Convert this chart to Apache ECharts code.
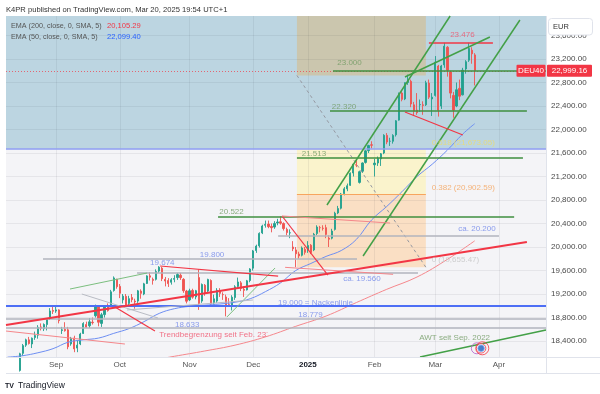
<!DOCTYPE html>
<html><head><meta charset="utf-8">
<script src="https://cdn.jsdelivr.net/npm/echarts@6/dist/echarts.min.js"></script>
<style>html,body{margin:0;padding:0;background:#fff}#c{width:600px;height:394px}</style>
</head><body><div id="c"></div>
<script>
// ---------- DATA ----------
const startDate = '2024-08-09';
const holidays = ['2024-12-24','2024-12-25','2024-12-26','2024-12-31','2025-01-01'];
const barCount = 178;               // trading-day slots incl. future space
const monthNames = ['Jan','Feb','Mar','Apr','May','Jun','Jul','Aug','Sep','Oct','Nov','Dec'];
// daily candles [open, high, low, close], index 0 = 2024-08-09
const ohlc = [
[17680,17760,17650,17722],[17720,17790,17690,17727],[17730,17840,17700,17812],[17830,17920,17780,17885],[17900,18200,17880,18183],
[18190,18350,18150,18322],[18330,18440,18300,18421],[18420,18470,18340,18357],[18350,18460,18280,18448],[18460,18560,18420,18493],
[18500,18670,18440,18633],[18640,18700,18580,18617],[18610,18700,18570,18681],[18680,18790,18580,18782],[18790,18960,18760,18912],
[18920,18990,18860,18906],[18910,18990,18880,18930],[18930,18940,18700,18747],[18580,18640,18520,18591],[18600,18720,18560,18576],
[18590,18640,18260,18301],[18350,18470,18320,18444],[18450,18490,18210,18266],[18280,18400,18210,18330],[18350,18540,18330,18518],
[18530,18720,18520,18699],[18680,18730,18620,18633],[18660,18790,18620,18726],[18720,18800,18680,18711],[18830,19020,18800,19002],
[18990,19000,18650,18720],[18700,18880,18640,18847],[18850,19000,18800,18996],[19000,19040,18900,18918],[19000,19270,18980,19238],
[19260,19500,19240,19474],[19450,19460,19290,19325],[19330,19370,19130,19213],[19100,19200,19040,19164],[19160,19200,18980,19015],
[19040,19170,18990,19121],[19140,19200,19060,19104],[19080,19120,18950,19066],[19080,19270,19050,19254],[19250,19280,19120,19211],
[19200,19390,19180,19373],[19380,19520,19370,19508],[19510,19570,19430,19486],[19450,19480,19360,19432],[19450,19620,19430,19583],
[19590,19674,19560,19657],[19640,19660,19420,19461],[19450,19490,19330,19421],[19430,19470,19320,19377],[19400,19470,19360,19443],
[19450,19520,19400,19464],[19480,19560,19440,19531],[19520,19560,19440,19479],[19450,19470,19220,19257],[19250,19270,19040,19078],
[19100,19290,19080,19255],[19260,19290,19120,19147],[19150,19270,19110,19256],[19480,19620,18930,19039],[19080,19380,19050,19362],
[19350,19370,19170,19215],[19250,19460,19230,19448],[19430,19450,19000,19033],[19050,19190,19000,19118],[19080,19300,19050,19263],
[19260,19300,19150,19211],[19190,19230,19100,19189],[19150,19190,18820,18987],[19020,19130,18990,19004],[19000,19180,18920,19146],
[19140,19350,19100,19323],[19330,19480,19300,19405],[19390,19420,19250,19295],[19280,19330,19150,19262],[19270,19440,19260,19425],
[19430,19640,19400,19626],[19640,19950,19600,19934],[19940,20040,19900,20016],[20020,20250,19990,20232],[20240,20380,20220,20358],
[20370,20450,20330,20385],[20390,20450,20320,20346],[20350,20400,20250,20329],[20340,20440,20310,20399],[20410,20480,20370,20426],
[20430,20522,20380,20406],[20400,20420,20280,20314],[20300,20330,20200,20246],[20240,20300,20150,20242],[20000,20100,19930,19970],
[19950,20000,19656,19885],[19880,19920,19800,19849],[19860,20010,19840,19984],[19960,20000,19870,19909],[19950,20100,19900,20025],
[20030,20050,19880,19906],[19950,20240,19930,20216],[20230,20370,20200,20340],[20330,20360,20250,20330],[20320,20370,20280,20317],
[20330,20380,20150,20215],[20150,20200,20000,20133],[20150,20310,20130,20271],[20300,20600,20280,20575],[20580,20700,20560,20655],
[20660,20920,20640,20903],[20910,21020,20880,20990],[20990,21080,20950,21042],[21050,21270,21040,21254],[21260,21420,21200,21411],
[21400,21480,21360,21394],[21100,21300,21080,21282],[21290,21440,21260,21430],[21440,21650,21420,21637],[21640,21740,21600,21727],
[21740,21800,21680,21732],[21400,21500,21200,21428],[21430,21540,21380,21505],[21500,21600,21380,21586],[21600,21920,21580,21902],
[21900,21940,21750,21787],[21800,21860,21720,21800],[21800,21920,21760,21900],[21910,22160,21880,22148],[22160,22630,22150,22612],
[22620,22650,22480,22513],[22520,22800,22500,22798],[22800,22935,22760,22844],[22820,22850,22380,22434],[22420,22470,22230,22314],
[22330,22620,22250,22287],[22420,22510,22300,22425],[22420,22480,22250,22410],[22420,22830,22400,22794],[22790,22850,22520,22551],
[22520,22620,22230,22551],[22580,23250,22560,23147],[23080,23100,22220,22327],[22400,23100,22350,23081],[23100,23476,23050,23419],
[23400,23420,22900,23009],[22980,23000,22530,22620],[22580,22640,22200,22329],[22400,22800,22380,22676],[22700,22850,22500,22567],
[22590,23050,22580,23009],[23030,23180,22950,23154],[23180,23476,23150,23380],[23350,23400,23120,23288],[23270,23300,22750,22999.16]
];
// moving averages: [bar index, value]
const ema50 = [[0,18125],[5,18150],[10,18200],[15,18270],[20,18380],[25,18420],[30,18450],[35,18530],[40,18610],[45,18730],
[50,18870],[55,18950],[60,18990],[65,19010],[70,19030],[75,19060],[80,19120],[85,19240],[90,19390],[95,19600],[100,19720],
[105,19840],[110,19940],[115,20130],[120,20460],[125,20690],[130,20940],[135,21200],[140,21410],[145,21650],[150,21920],[154,22099.40]];
const ema200 = [[45,18050],[55,18140],[65,18230],[75,18330],[85,18470],[95,18650],[105,18825],[115,19055],[125,19280],
[135,19490],[145,19790],[154,20105.29]];
const priceTicks = [18400,18800,19200,19600,20000,20400,20800,21200,21600,22000,22400,22800,23200,23600];
// Fibonacci retracement levels (0, 0.382, 0.618, 1) and its bar span
const fibLevels = [19655.47, 20902.59, 21673.05, 22920.17];
const fibSpan = [95.4, 137.9];
// horizontal levels: [price, fromBar, toBar]
const greenLevels = [[23000,107.3,177.5],[22320,106.3,171.2],[21513,95.4,169.9],[20522,69.4,167.0]];
const grayLevels = [[18779,-0.5,177.5],[18633,-0.5,177.5],[19800,11.7,115.2],[20200,89.2,162.0],[19560,42.7,135.3]];
const neckLine = [19000,-0.5,177.5];
const highLevel = [23476,138.9,160.0];
// diagonal trend lines: [[bar, price],[bar, price]]
const greenTrends = [[[105.3,20715],[145.9,23932]],[[117.2,19847],[168.9,23864]],[[131.0,22894],[159.0,23574]],[[135.97,18128],[177.5,18587]]];
const thinGreenTrends = [[[20.6,19285],[46.0,19557]],[[72.3,18808],[88.2,19643]]];
const grayTrends = [[[24.5,19200],[49.6,18791]],[[39.4,18928],[80.9,19098]]];
const mainRedTrend = [[-0.5,18672],[171.2,20085]];
const redTrends = [[[35.4,18979],[48.6,18570]],[[50.3,19677],[89.2,19506]],[[90.5,20528],[105.6,19523]],[[131.0,22298],[150.1,21906]]];
const thinRedTrends = [[[-0.5,18570],[38.7,18349]],[[90.5,20528],[126.1,20408]],[[91.5,19654],[127.1,19535]]];
// text notes: [text, bar, price]
const notes = [
 ['23.000',108.7,23137,'g'],['22.320',106.9,22388,'g'],['21.513',96.97,21583,'g'],['20.522',69.8,20601,'g'],
 ['23.476',145.9,23608,'r'],['19.800',63.4,19864,'b'],['19.674',47.0,19723,'b'],['ca. 19.560',110.7,19455,'b'],
 ['ca. 20.200',148.6,20306,'b'],['19.000 = Nackenlinie',89.2,19059,'b'],['18.779',95.85,18843,'b'],['18.633',55.2,18672,'b'],
 ['Trendbegrenzung seit Feb. 23´',50.0,18502,'r'],['AWT seit Sep. 2022',135.7,18463,'g'],
 ['0.618 (21,673.05)',139.8,21775,'y'],['0.382 (20,902.59)',139.8,21016,'o'],['0 (19,655.47)',139.8,19779,'n']
];
const awtIcon = [156.1, 18276];
const symbolName = 'DEU40';

// ---------- BUILD ----------
function tradingDays(start, n) {
  const out = []; const d = new Date(start + 'T12:00:00Z');
  while (out.length < n) {
    const wd = d.getUTCDay(); const iso = d.toISOString().slice(0,10);
    if (wd !== 0 && wd !== 6 && !holidays.includes(iso)) out.push(iso);
    d.setUTCDate(d.getUTCDate() + 1);
  }
  return out;
}
const cats = tradingDays(startDate, barCount);
const monthStart = new Set();
cats.forEach((c,i) => { if (i > 0 && c.slice(5,7) !== cats[i-1].slice(5,7)) monthStart.add(i); });
const FONT = '"Liberation Sans", Arial, sans-serif';
const yMin = 18128, yMax = 23932, xMin = -0.5, xMax = barCount - 0.5;
const UP = '#22a08e', DOWN = '#ef5350';
const fmt = v => v.toLocaleString('en-US', {minimumFractionDigits:2, maximumFractionDigits:2});
const noteColors = {g:'#6f9a62', r:'#f0506a', b:'#6f86ea', y:'#eedc6a', o:'#f5a35a', n:'#c4c4c4'};

const seg = (a, b, style) => [{coord:a, lineStyle:style}, {coord:b}];
const hseg = (l, style) => seg([l[1], l[0]], [l[2], l[0]], style);
const segs = [];
const lastClose = ohlc[ohlc.length-1][3];
segs.push(seg([xMin,lastClose],[xMax,lastClose],{color:'#f23645',width:1,type:[1,2],opacity:0.7}));
segs.push(seg([xMin,fibLevels[2]],[xMax,fibLevels[2]],{color:'#8c9cf2',width:1.5,type:'solid'}));
segs.push(seg([fibSpan[0],fibLevels[1]],[fibSpan[1],fibLevels[1]],{color:'#f7a55e',width:1,type:'solid'}));
segs.push(seg([fibSpan[0],fibLevels[3]],[fibSpan[1],fibLevels[0]],{color:'#9598a1',width:1,type:[3,3]}));
grayLevels.forEach(l => segs.push(hseg(l,{color:'#b2b5be',width:1.5,type:'solid'})));
segs.push(hseg(neckLine,{color:'#4d6ef5',width:2,type:'solid'}));
greenLevels.forEach(l => segs.push(hseg(l,{color:'#3f8f3f',width:1.5,type:'solid'})));
segs.push(hseg(highLevel,{color:'#f23645',width:1.5,type:'solid'}));
greenTrends.forEach(t => segs.push(seg(t[0],t[1],{color:'#43a047',width:1.5,type:'solid'})));
thinGreenTrends.forEach(t => segs.push(seg(t[0],t[1],{color:'#7cbf7f',width:1,type:'solid'})));
grayTrends.forEach(t => segs.push(seg(t[0],t[1],{color:'#b9bcc4',width:1,type:'solid'})));
segs.push(seg(mainRedTrend[0],mainRedTrend[1],{color:'#f23645',width:2,type:'solid'}));
redTrends.forEach(t => segs.push(seg(t[0],t[1],{color:'#f23645',width:1.2,type:'solid'})));
thinRedTrends.forEach(t => segs.push(seg(t[0],t[1],{color:'#f5868a',width:1,type:'solid'})));

const area = (x0,y0,x1,y1,color) => [{coord:[x0,y0], itemStyle:{color}}, {coord:[x1,y1]}];

const chart = echarts.init(document.getElementById('c'), null, {renderer:'canvas', width:600, height:394});
const txt = (x, y, text, fill, size, weight, align) => ({type:'text', x, y, silent:true, z:100,
  style:{text, fill, font:`${weight||'normal'} ${size||8}px ${FONT}`, verticalAlign:'middle', align:align||'left'}});
const graphics = [
  txt(6, 9.5, 'K4PR published on TradingView.com, Mar 20, 2025 19:54 UTC+1', '#333', 7.6),
  txt(11, 25.7, 'EMA (200, close, 0, SMA, 5)', '#555', 7.2),
  txt(107, 25.7, fmt(ema200[ema200.length-1][1]), '#f23645', 7.6),
  txt(11, 36.7, 'EMA (50, close, 0, SMA, 5)', '#555', 7.2),
  txt(107, 36.7, fmt(ema50[ema50.length-1][1]), '#2962ff', 7.6),
  {type:'rect', z:99, silent:true, shape:{x:548.5, y:18.5, width:44, height:16.5, r:3}, style:{fill:'#fff', stroke:'#e0e3eb', lineWidth:1}},
  txt(553, 26.5, 'EUR', '#333', 7.5),
  {type:'line', z:98, silent:true, shape:{x1:6, y1:357.5, x2:600, y2:357.5}, style:{stroke:'#e0e3eb', lineWidth:1}},
  {type:'line', z:98, silent:true, shape:{x1:6, y1:373.5, x2:600, y2:373.5}, style:{stroke:'#e0e3eb', lineWidth:1}},
  {type:'line', z:98, silent:true, shape:{x1:546.5, y1:16, x2:546.5, y2:373.5}, style:{stroke:'#e0e3eb', lineWidth:1}},
  txt(5, 385.6, 'TV', '#131722', 7, 'bold'),
  txt(18, 385.6, 'TradingView', '#131722', 8.5)
];

const option = {
  animation: false,
  grid: {left:6, right:54, top:16, bottom:37, show:true, backgroundColor:'#f4f4f7', borderWidth:0},
  xAxis: [
    {type:'category', data:cats, boundaryGap:true, axisLine:{show:false}, axisTick:{show:false}, splitLine:{show:false},
     axisLabel:{interval:(i)=>monthStart.has(i), fontSize:8, fontFamily:FONT, color:'#555', margin:4,
       formatter:(v)=>{ const m = +v.slice(5,7)-1; return m===0 ? '{b|'+v.slice(0,4)+'}' : monthNames[m]; },
       rich:{b:{fontWeight:'bold', color:'#131722', fontSize:8, fontFamily:FONT}}}},
    {type:'value', min:xMin, max:xMax, show:false}
  ],
  yAxis: {type:'value', position:'right', min:yMin, max:yMax, scale:true,
    axisLine:{show:false}, axisTick:{show:false}, splitLine:{show:false},
    axisLabel:{customValues:priceTicks, formatter:fmt, fontSize:8, fontFamily:FONT, color:'#4a4a4a', margin:5}},
  graphic: graphics,
  series: [
    {name:'bg', type:'line', xAxisIndex:1, data:[], silent:true,
     markArea:{silent:true, z:1, data:[
       area(xMin, fibLevels[2], xMax, yMax, '#bcd5e1'),
       area(fibSpan[0], fibLevels[3], fibSpan[1], yMax, '#cbc6ae'),
       area(fibSpan[0], fibLevels[1], fibSpan[1], fibLevels[2], '#faf3cc'),
       area(fibSpan[0], fibLevels[0], fibSpan[1], fibLevels[1], '#fadfc4')
     ]}},
    {name:'gridlines', type:'line', xAxisIndex:1, data:[], silent:true,
     markLine:{silent:true, z:1.2, symbol:['none','none'], label:{show:false},
       lineStyle:{color:'rgba(42,46,57,0.07)', width:1, type:'solid'},
       data:[...priceTicks.map(v=>({yAxis:v})), ...[...monthStart].map(i=>({xAxis:i}))]}},
    {name:'DEU40', type:'candlestick', xAxisIndex:0, yAxisIndex:0, z:2, barWidth:1.7,
     data: ohlc.map(r=>[r[0], r[3], r[2], r[1]]),
     itemStyle:{color:UP, color0:DOWN, borderColor:UP, borderColor0:DOWN, borderWidth:0.9}},
    {name:'EMA200', type:'line', xAxisIndex:1, data:ema200, smooth:0.4, showSymbol:false, z:3,
     lineStyle:{color:'#f5878c', width:1}},
    {name:'EMA50', type:'line', xAxisIndex:1, data:ema50, smooth:0.4, showSymbol:false, z:3,
     lineStyle:{color:'#6d8ef2', width:1}},
    {name:'drawings', type:'line', xAxisIndex:1, data:[], silent:true,
     markLine:{silent:true, z:4, symbol:['none','none'], label:{show:false}, data:segs}},
    {name:'notes', type:'scatter', xAxisIndex:1, z:5, symbolSize:0, silent:true,
     data: notes.map(n=>({name:n[0], value:[n[1], n[2]], label:{color:noteColors[n[3]]}})),
     label:{show:true, position:'right', distance:0, formatter:'{b}', fontSize:8, fontFamily:FONT}},
    {name:'awt', type:'scatter', xAxisIndex:1, z:6, silent:true,
     data:[
       {value:[awtIcon[0]-1.4, awtIcon[1]], symbolSize:11, itemStyle:{color:'rgba(0,0,0,0)', borderColor:'#b25cc9', borderWidth:1}},
       {value:[awtIcon[0]+0.4, awtIcon[1]], symbolSize:13, itemStyle:{color:'rgba(0,0,0,0)', borderColor:'#f23645', borderWidth:1}},
       {value:[awtIcon[0], awtIcon[1]], symbolSize:9.5, itemStyle:{color:'#fff', borderColor:'#f23645', borderWidth:1}},
       {value:[awtIcon[0], awtIcon[1]], symbolSize:6.5, itemStyle:{color:'#1f5fbf', borderColor:'#7fb0f0', borderWidth:1}}
     ]}
  ]
};
chart.setOption(option);
const py = chart.convertToPixel({yAxisIndex:0}, lastClose);
graphics.push(
  {type:'rect', z:102, silent:true, shape:{x:516.5, y:py-6, width:29, height:12, r:1}, style:{fill:'#f23645'}},
  txt(531, py, symbolName, '#fff', 8, 'normal', 'center'),
  {type:'rect', z:102, silent:true, shape:{x:547, y:py-6, width:45, height:12, r:1}, style:{fill:'#f23645'}},
  txt(569.5, py, fmt(lastClose), '#fff', 8, 'normal', 'center')
);
graphics.slice(-4).forEach(g=>g.z=102);
chart.setOption({graphic: graphics});
</script></body></html>
